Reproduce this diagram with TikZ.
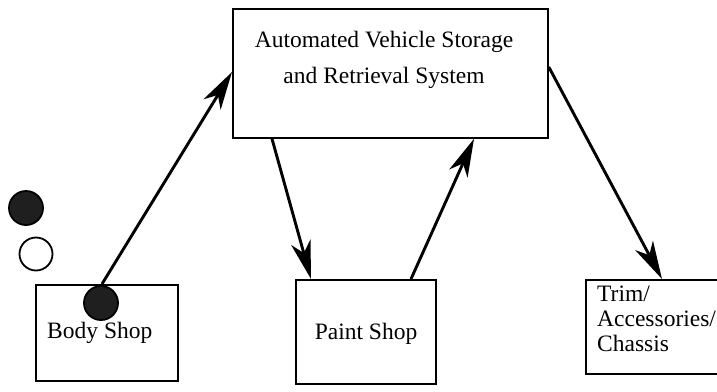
\documentclass[tikz,border=0pt]{standalone}
\usepackage{fontspec}
\setmainfont{Liberation Serif}
\usetikzlibrary{arrows.meta}
\begin{document}
\begin{tikzpicture}[x=1pt,y=-1pt,
  box/.style={draw, line width=1.8pt, anchor=north west, inner sep=0pt},
  lbl/.style={font=\fontsize{23.5}{27}\selectfont, inner sep=0pt},
  flow/.style={line width=2.9pt, -{Stealth[length=38pt,width=20pt,inset=11pt]}},
  token/.style={circle, line width=1.8pt, minimum size=34pt, inner sep=0pt}]
\useasboundingbox (0,0) rectangle (717,391);
\clip (0,0) rectangle (717,391);

% stations
\node[box, minimum width=315pt, minimum height=129pt] (asrs)  at (232,8)   {};
\node[box, minimum width=142pt, minimum height=96pt]  (body)  at (35,284)  {};
\node[box, minimum width=140pt, minimum height=104pt] (paint) at (295,279) {};
\node[box, minimum width=160pt, minimum height=94pt]  (trim)  at (585,279) {};

% labels
\node[lbl, anchor=base] (asrsA) at (384,47) {Automated Vehicle Storage};
\node[lbl, anchor=base] (asrsB) at (384,83) {and Retrieval System};
\node[lbl, anchor=base west] (bodyL) at (47,338) {Body Shop};
\node[lbl, anchor=base] (paintL) at (366,339) {Paint Shop};
\node[lbl, anchor=base west] (trimA) at (597,301) {Trim/};
\node[lbl, anchor=base west] (trimB) at (597,326) {Accessories/};
\node[lbl, anchor=base west] (trimC) at (597,351) {Chassis};

% material flow
\draw[flow] ([xshift=67pt]body.north west) -- ([yshift=-64pt]asrs.north west);
\draw[flow] ([xshift=40pt]asrs.south west) -- ([xshift=16pt]paint.north west);
\draw[flow] ([xshift=116pt]paint.north west) -- ([xshift=242pt]asrs.south west);
\draw[flow] ([yshift=-59pt]asrs.north east) -- ([xshift=77pt]trim.north west);

% vehicle tokens
\node[token, draw, fill=black!88] (tokA) at (26,208) {};
\node[token, draw, fill=white, minimum size=33pt] (tokB) at (36,254) {};
\node[token, draw, fill=black!88] (tokC) at (101,303) {};
\end{tikzpicture}
\end{document}
